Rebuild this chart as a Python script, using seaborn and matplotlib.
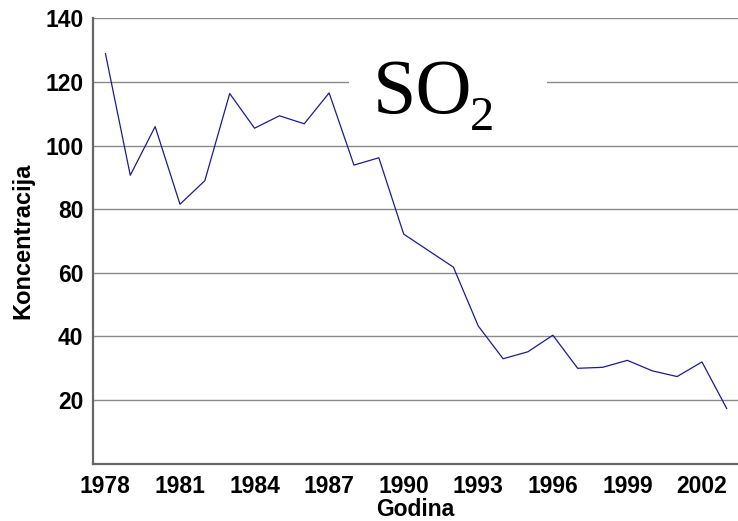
import numpy as np
import pandas as pd
import matplotlib
matplotlib.use("Agg")
import matplotlib.pyplot as plt
import seaborn as sns
from matplotlib.ticker import MultipleLocator
from matplotlib.patches import Rectangle

years = list(range(1978, 2004))
so2 = [129.0, 90.7, 106.0, 81.6, 89.0, 116.4, 105.5, 109.4, 106.9, 116.6,
       93.9, 96.2, 72.2, 67.0, 61.8, 43.3, 33.0, 35.2, 40.4, 30.0,
       30.3, 32.5, 29.2, 27.4, 32.0, 17.3]
x_labels = [1978, 1981, 1984, 1987, 1990, 1993, 1996, 1999, 2002]
y_labels = [20, 40, 60, 80, 100, 120, 140]

df = pd.DataFrame({"Godina": years, "Koncentracija": so2})

sns.set_theme(style="white")
plt.rcParams['font.family'] = ['Liberation Sans', 'DejaVu Sans']

fig = plt.figure(figsize=(7.38, 5.21), dpi=100)
ax = fig.add_axes([0.126, 0.110, 0.874, 0.8545])

for v in y_labels:
    ax.axhline(v, color='#8a8a8a', lw=1.0, zorder=1)

sns.lineplot(data=df, x="Godina", y="Koncentracija", color='#1c1c8e', lw=0.9, ax=ax, zorder=3)

ax.set_xlim(1977.5, 2003.45)
ax.set_ylim(0, 140)
ax.set_xticks(x_labels)
ax.set_xticks(years, minor=True)
ax.set_yticks(y_labels)
ax.yaxis.set_minor_locator(MultipleLocator(10))
ax.tick_params(axis='both', which='both', direction='in', color='#777777', width=1)
ax.tick_params(axis='x', which='both', length=6)
ax.tick_params(axis='y', which='major', length=9)
ax.tick_params(axis='y', which='minor', length=6)
for lab in ax.get_xticklabels() + ax.get_yticklabels():
    lab.set_fontweight('bold')
    lab.set_fontsize(16.5)
    lab.set_color('black')
ax.tick_params(axis='x', pad=8)
ax.tick_params(axis='y', pad=7)

for s in ['top', 'right']:
    ax.spines[s].set_visible(False)
for s in ['left', 'bottom']:
    ax.spines[s].set_color('#666666')
    ax.spines[s].set_linewidth(1.6)

ax.set_xlabel("Godina", fontsize=16.5, fontweight='bold', color='black', labelpad=0)
ax.set_ylabel("Koncentracija", fontsize=17, fontweight='bold', color='black', labelpad=8)

# white label box over the 120 gridline
ax.add_patch(Rectangle((1987.8, 104), 7.95, 24, facecolor='white', edgecolor='none', zorder=2))
ax.text(1988.75, 110.3, "SO", fontsize=56, family='Liberation Serif',
        ha='left', va='baseline', color='black', zorder=4)
ax.text(1992.65, 104.9, "2", fontsize=35, family='Liberation Serif',
        ha='left', va='baseline', color='black', zorder=4)

fig.savefig("out.png", dpi=100)
